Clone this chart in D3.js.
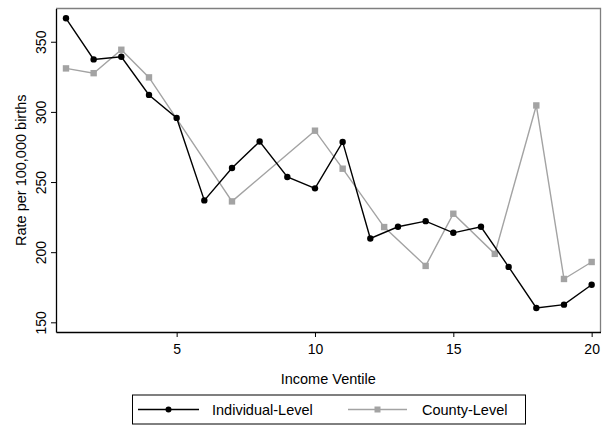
<!DOCTYPE html>
<html>
<head>
<meta charset="utf-8">
<script src="https://cdn.jsdelivr.net/npm/d3@7"></script>
<style>
  body { margin: 0; background: #fff; }
  text { font-family: "Liberation Sans", Arial, sans-serif; fill: #000; }
</style>
</head>
<body>
<div id="chart"></div>
<script>

// individual-level series, one point per ventile
var indivVentile = [1, 2, 3, 4, 5, 6, 7, 8, 9, 10, 11, 12, 13, 14, 15, 16, 17, 18, 19, 20];
var indivRate = [366.7, 337.4, 339.3, 312.1, 295.7, 236.9, 260.0, 278.9, 253.6, 245.5,
                 278.6, 209.8, 218.1, 222.1, 213.8, 218.1, 189.5, 160.2, 162.6, 176.8];

// county-level series (fewer points, some at half ventiles)
var countyVentile = [1, 2, 3, 4, 7, 10, 11, 12.5, 14, 15, 16.5, 18, 19, 20];
var countyRate = [331.0, 327.6, 344.3, 324.6, 236.2, 286.6, 259.5, 217.9, 190.2, 227.4,
                  198.8, 304.6, 180.9, 193.0];

var xTicks = [5, 10, 15, 20];
var yTicks = [150, 200, 250, 300, 350];
var seriesNames = ["Individual-Level", "County-Level"];

var chart = {
    svgWidth: 604,
    svgHeight: 428,
    margin: {"top": 8.5, "bottom": 96, "left": 56, "right": 3.5},
    tickFont: 14,
    titleFont: 14.5,
};
chart.plotRight = chart.svgWidth - chart.margin.right;
chart.plotBottom = chart.svgHeight - chart.margin.bottom;

var svg = d3.select("#chart").append("svg")
    .attr("width", chart.svgWidth)
    .attr("height", chart.svgHeight);

var xScale = d3.scaleLinear()
    .domain([0.639, 20.32])
    .range([chart.margin.left, chart.plotRight]);

var yScale = d3.scaleLinear()
    .domain([143.1, 373.7])
    .range([chart.plotBottom, chart.margin.top]);

// gray outline on top and right of the plot region
svg.append("path")
    .attr("d", "M" + chart.margin.left + "," + chart.margin.top
             + "H" + chart.plotRight + "V" + chart.plotBottom)
    .attr("fill", "none")
    .attr("stroke", "#7f7f7f")
    .attr("stroke-width", 1.3);

// axes
var xAxis = d3.axisBottom(xScale)
    .tickValues(xTicks)
    .tickSize(5)
    .tickSizeOuter(0)
    .tickFormat(d3.format("d"));

var yAxis = d3.axisLeft(yScale)
    .tickValues(yTicks)
    .tickSize(5)
    .tickSizeOuter(0);

var gx = svg.append("g")
    .attr("transform", "translate(0," + chart.plotBottom + ")")
    .call(xAxis);
gx.select(".domain").attr("stroke-width", 1.3);
gx.selectAll(".tick text")
    .attr("font-size", chart.tickFont)
    .attr("font-family", "Liberation Sans, Arial, sans-serif")
    .attr("y", 12);

var gy = svg.append("g")
    .attr("transform", "translate(" + chart.margin.left + ",0)")
    .call(yAxis);
gy.select(".domain").attr("stroke-width", 1.3);
gy.selectAll(".tick text")
    .attr("font-size", chart.tickFont)
    .attr("font-family", "Liberation Sans, Arial, sans-serif")
    .attr("text-anchor", "middle")
    .attr("x", 0)
    .attr("dy", 0)
    .attr("transform", "translate(-10.5,0) rotate(-90)");

// axis titles
svg.append("text")
    .attr("x", (chart.margin.left + chart.plotRight) / 2)
    .attr("y", 383.5)
    .attr("text-anchor", "middle")
    .attr("font-size", chart.titleFont)
    .text("Income Ventile");

svg.append("text")
    .attr("transform", "translate(25.5," + ((chart.margin.top + chart.plotBottom) / 2) + ") rotate(-90)")
    .attr("text-anchor", "middle")
    .attr("font-size", chart.titleFont)
    .text("Rate per 100,000 births");

// lines and markers
var line = d3.line()
    .x(d => xScale(d[0]))
    .y(d => yScale(d[1]));

var indivData = d3.zip(indivVentile, indivRate);
var countyData = d3.zip(countyVentile, countyRate);

svg.append("path")
    .datum(countyData)
    .attr("d", line)
    .attr("fill", "none")
    .attr("stroke", "#a3a3a3")
    .attr("stroke-width", 1.4);

svg.selectAll("rect.county")
    .data(countyData)
    .enter().append("rect")
    .attr("class", "county")
    .attr("x", d => xScale(d[0]) - 3.2)
    .attr("y", d => yScale(d[1]) - 3.2)
    .attr("width", 6.4)
    .attr("height", 6.4)
    .attr("fill", "#a3a3a3");

svg.append("path")
    .datum(indivData)
    .attr("d", line)
    .attr("fill", "none")
    .attr("stroke", "#000")
    .attr("stroke-width", 1.4);

svg.selectAll("circle.indiv")
    .data(indivData)
    .enter().append("circle")
    .attr("class", "indiv")
    .attr("cx", d => xScale(d[0]))
    .attr("cy", d => yScale(d[1]))
    .attr("r", 3.2)
    .attr("fill", "#000");

// legend
var legend = svg.append("g");
legend.append("rect")
    .attr("x", 132.5)
    .attr("y", 395)
    .attr("width", 393)
    .attr("height", 29)
    .attr("fill", "#fff")
    .attr("stroke", "#000")
    .attr("stroke-width", 1);

var legendY = 409.5;
var legendItems = [
    {x0: 138, x1: 199, textX: 212, color: "#000", mark: "circle"},
    {x0: 348, x1: 407, textX: 422, color: "#a3a3a3", mark: "square"},
];

legendItems.forEach(function(item, i) {
    legend.append("line")
        .attr("x1", item.x0).attr("x2", item.x1)
        .attr("y1", legendY).attr("y2", legendY)
        .attr("stroke", item.color)
        .attr("stroke-width", 1.4);
    var mid = (item.x0 + item.x1) / 2;
    if (item.mark == "circle") {
        legend.append("circle")
            .attr("cx", mid).attr("cy", legendY).attr("r", 3)
            .attr("fill", item.color);
    } else {
        legend.append("rect")
            .attr("x", mid - 3).attr("y", legendY - 3)
            .attr("width", 6).attr("height", 6)
            .attr("fill", item.color);
    }
    legend.append("text")
        .attr("x", item.textX)
        .attr("y", legendY + 5)
        .attr("font-size", chart.titleFont)
        .text(seriesNames[i]);
});

</script>
</body>
</html>
